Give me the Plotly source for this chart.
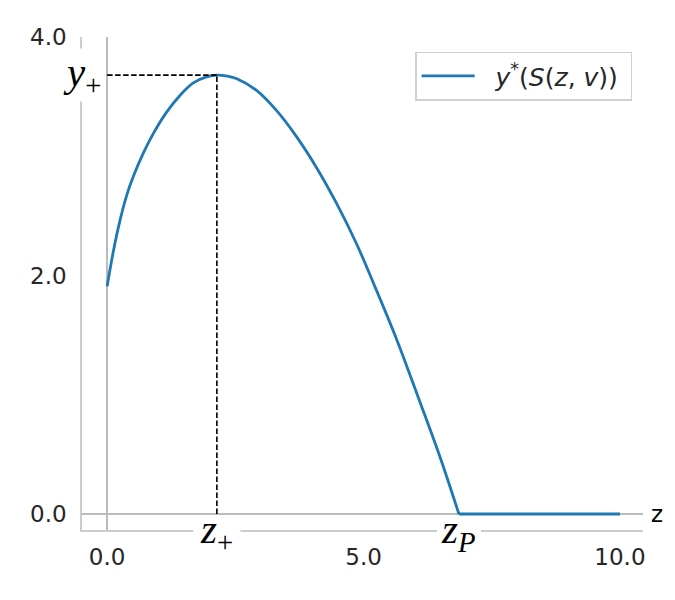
import plotly.graph_objects as go

# data
z_curve = [0.0, 0.12, 0.25, 0.38, 0.51, 0.71, 0.90, 1.16, 1.42, 1.68, 1.94, 2.14, 2.34, 2.53, 2.92, 3.31, 3.70, 4.09, 4.48, 4.87, 5.19, 5.65, 6.10, 6.49, 6.86]
y_curve = [1.91, 2.20, 2.46, 2.67, 2.83, 3.03, 3.19, 3.37, 3.51, 3.615, 3.665, 3.68, 3.672, 3.65, 3.55, 3.38, 3.16, 2.90, 2.60, 2.26, 1.94, 1.46, 0.94, 0.48, 0.0]
z_flat = [6.86, 10.0]
y_flat = [0.0, 0.0]
z_plus = 2.14
y_plus = 3.68
z_P = 6.86
x_ticks = [0.0, 5.0, 10.0]
y_ticks = [0.0, 2.0, 4.0]

blue = "#1f77b4"
fig = go.Figure()
fig.add_trace(go.Scatter(x=z_curve, y=y_curve, mode="lines", line=dict(color=blue, width=2.8, shape="spline", smoothing=1.0),
                         name="&nbsp;&nbsp;<i>y</i><sup>*</sup>(<i>S</i>(<i>z</i>, <i>v</i>))&nbsp;", legendgroup="g"))
fig.add_trace(go.Scatter(x=z_flat, y=y_flat, mode="lines", line=dict(color=blue, width=2.8), showlegend=False, legendgroup="g"))
fig.add_trace(go.Scatter(x=[0, z_plus], y=[y_plus, y_plus], mode="lines", line=dict(color="black", width=1.6, dash="5.5px,2.5px"), showlegend=False))
fig.add_trace(go.Scatter(x=[z_plus, z_plus], y=[0, y_plus], mode="lines", line=dict(color="black", width=1.6, dash="5.5px,2.5px"), showlegend=False))

tickfont = dict(family="DejaVu Sans", size=23, color="#262626")
fig.update_layout(
    width=667, height=592,
    margin=dict(l=74, r=32, t=29, b=70),
    paper_bgcolor="white", plot_bgcolor="white",
    showlegend=True,
    legend=dict(x=0.981, xanchor="right", y=0.97, yanchor="top", bordercolor="#d0d0d0", borderwidth=1.3,
                font=dict(family="DejaVu Sans", size=25, color="#262626"), bgcolor="white",
                itemwidth=53),
    xaxis=dict(range=[-0.49, 10.45], tickvals=x_ticks, ticktext=[f"{v:.1f}" for v in x_ticks], tickfont=tickfont,
               showgrid=False, zeroline=True, zerolinecolor="#bbbbbb", zerolinewidth=1.5,
               showline=True, linecolor="#cccccc", linewidth=1.5, ticks="", ticklabelstandoff=6),
    yaxis=dict(range=[-0.134, 4.0], tickvals=y_ticks, ticktext=[f"{v:.1f}" for v in y_ticks], tickfont=tickfont,
               showgrid=False, zeroline=True, zerolinecolor="#bbbbbb", zerolinewidth=1.5,
               showline=True, linecolor="#cccccc", linewidth=1.5, ticks="", ticklabelstandoff=9),
)

# white gaps in the bottom spine behind the z labels
for zc, hw in [(z_plus, 0.46), (z_P, 0.43)]:
    fig.add_shape(type="line", xref="x", yref="paper", x0=zc - hw, x1=zc + hw, y0=0, y1=0,
                  line=dict(color="white", width=4), layer="above")

afont = dict(family="Liberation Serif", size=41, color="black")
fig.add_annotation(x=z_plus, y=0, yref="paper", yshift=-2, text="<i>z</i><sub>+</sub>", showarrow=False, font=afont,
                   xanchor="center", yanchor="middle", borderpad=0)
fig.add_annotation(x=z_P, y=0, yref="paper", yshift=-2, text="<i>z</i><sub><i>P</i></sub>", showarrow=False, font=afont,
                   xanchor="center", yanchor="middle", borderpad=0)
fig.add_annotation(x=0, xref="paper", y=y_plus, text="<i>y</i><sub>+</sub>", showarrow=False, font=afont,
                   bgcolor="white", xanchor="center", yanchor="middle", borderpad=0)
fig.add_annotation(x=1, xref="paper", xanchor="left", xshift=6, y=0, text="z", showarrow=False,
                   font=dict(family="DejaVu Sans", size=23, color="black"))

fig.write_html("out.html")
